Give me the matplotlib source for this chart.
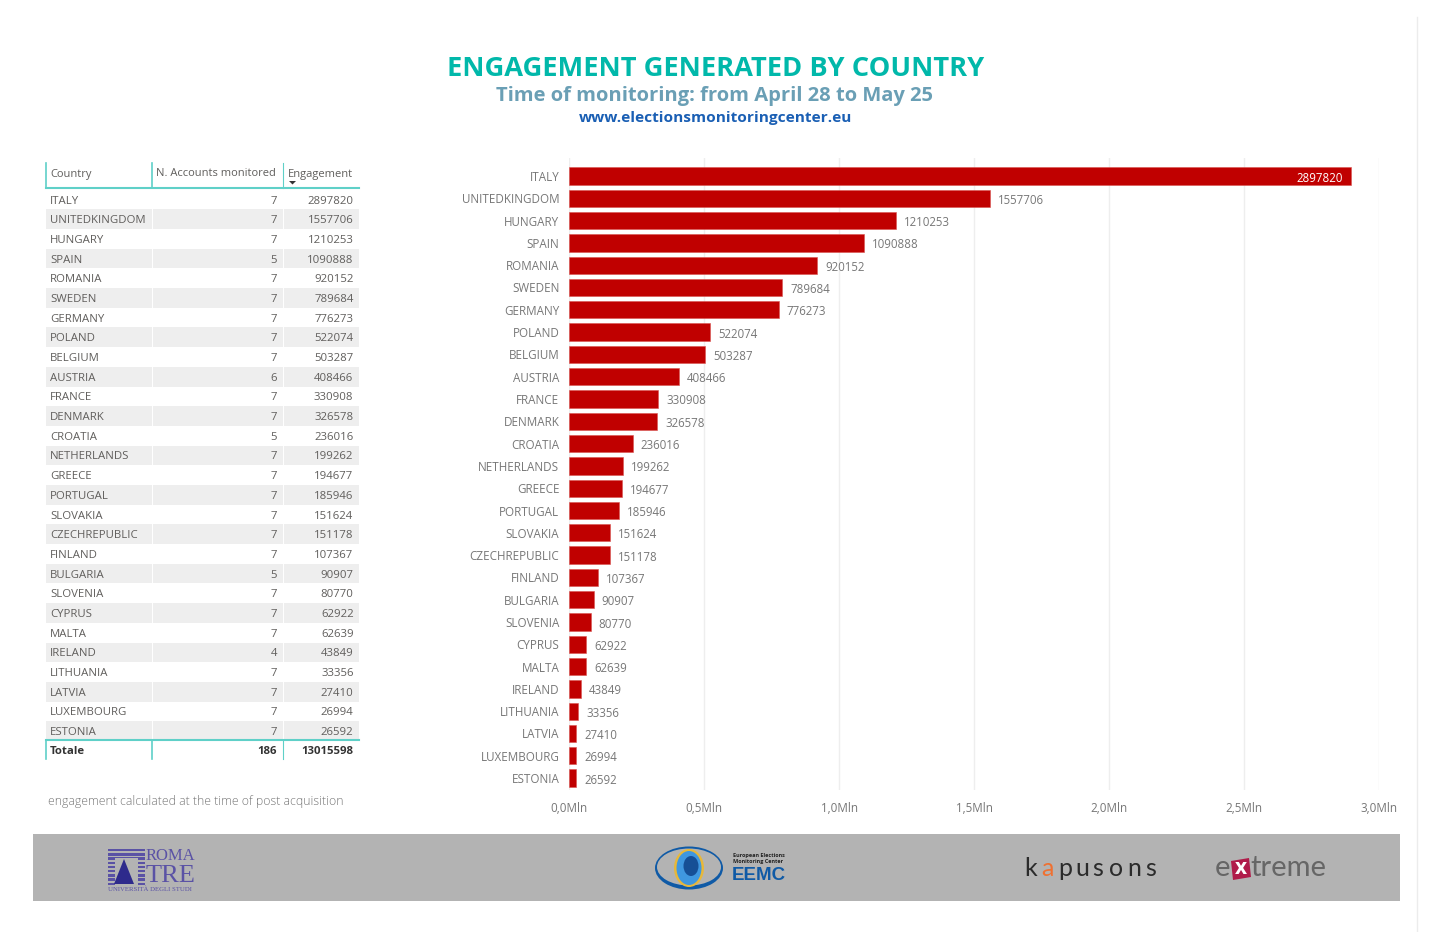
import matplotlib
matplotlib.use('Agg')
import matplotlib.pyplot as plt
from matplotlib.patches import Rectangle, Ellipse, Polygon

plt.rcParams['font.family'] = ['Open Sans', 'DejaVu Sans']

countries = ['ITALY', 'UNITEDKINGDOM', 'HUNGARY', 'SPAIN', 'ROMANIA', 'SWEDEN', 'GERMANY',
             'POLAND', 'BELGIUM', 'AUSTRIA', 'FRANCE', 'DENMARK', 'CROATIA', 'NETHERLANDS',
             'GREECE', 'PORTUGAL', 'SLOVAKIA', 'CZECHREPUBLIC', 'FINLAND', 'BULGARIA',
             'SLOVENIA', 'CYPRUS', 'MALTA', 'IRELAND', 'LITHUANIA', 'LATVIA', 'LUXEMBOURG',
             'ESTONIA']
accounts = [7, 7, 7, 5, 7, 7, 7, 7, 7, 6, 7, 7, 5, 7, 7, 7, 7, 7, 7, 5, 7, 7, 7, 4, 7, 7, 7, 7]
engagement = [2897820, 1557706, 1210253, 1090888, 920152, 789684, 776273, 522074, 503287,
              408466, 330908, 326578, 236016, 199262, 194677, 185946, 151624, 151178,
              107367, 90907, 80770, 62922, 62639, 43849, 33356, 27410, 26994, 26592]
total_accounts = 186
total_engagement = 13015598
xticks = [0, 500000, 1000000, 1500000, 2000000, 2500000, 3000000]
xtick_labels = ['0,0Mln', '0,5Mln', '1,0Mln', '1,5Mln', '2,0Mln', '2,5Mln', '3,0Mln']

W = 1434
H = 932
TEAL = '#5fd0c8'
GREY = '#605e5c'

fig = plt.figure(figsize=(W / 100, H / 100), dpi=100)

# overlay in pixel coordinates, for the title, table and footer
bg = fig.add_axes([0, 0, 1, 1])
bg.set_xlim(0, W)
bg.set_ylim(H, 0)
bg.axis('off')

# right page edge
bg.plot([1417, 1417], [17, H], color='#ececec', lw=1)

bg.text(716, 69, 'ENGAGEMENT GENERATED BY COUNTRY', color='#01b8aa', fontsize=19.6,
        fontweight='bold', ha='center', va='center')
bg.text(715, 96, 'Time of monitoring: from April 28 to May 25', color='#6a9fb5', fontsize=14.5,
        fontweight='bold', ha='center', va='center')
bg.text(716, 118, 'www.electionsmonitoringcenter.eu', color='#1a5fb4', fontsize=11.1,
        fontweight='bold', ha='center', va='center')

# table
row0 = 200
step = 19.69
col_l = 45.5
col_r = 359
col_a = 152
col_b = 283
for i in range(len(countries)):
    y = row0 + i * step
    if i % 2 == 1:
        bg.add_patch(Rectangle((col_l, y - step / 2 - 0.5), col_r - col_l, step, color='#eeeeee', lw=0))
    bg.text(50, y + 1, countries[i], fontsize=8.2, color=GREY, ha='left', va='center')
    bg.text(277, y + 1, str(accounts[i]), fontsize=8.2, color=GREY, ha='right', va='center')
    bg.text(353.5, y + 1, str(engagement[i]), fontsize=8.2, color=GREY, ha='right', va='center')
for x in [col_a, col_b]:
    bg.plot([x, x], [190, 740], color='white', lw=0.7)

bg.text(50, 174, 'Country', fontsize=8, color=GREY, ha='left', va='center')
bg.text(156, 174, 'N. Accounts monitored', fontsize=8, color=GREY, ha='left', va='center')
bg.text(288, 174, 'Engagement', fontsize=8, color=GREY, ha='left', va='center')
bg.add_patch(Polygon([(289, 181), (296, 181), (292.5, 184.5)], color='#333333', lw=0))

bg.plot([col_l, col_r], [188, 188], color=TEAL, lw=1.5)
bg.plot([col_l, col_r], [740, 740], color=TEAL, lw=1.5)
bg.plot([col_l, col_l], [163, 188], color=TEAL, lw=1.2)
bg.plot([col_a, col_a], [163, 188], color=TEAL, lw=1.2)
bg.plot([col_b, col_b], [163, 188], color=TEAL, lw=0.8)
bg.plot([col_l, col_l], [740, 759], color=TEAL, lw=1.2)
bg.plot([col_a, col_a], [740, 759], color=TEAL, lw=1.2)
bg.plot([col_b, col_b], [740, 759], color=TEAL, lw=0.8)

bg.text(50, 752, 'Totale', fontsize=8.2, color='#333333', fontweight='bold', ha='left', va='center')
bg.text(277, 752, str(total_accounts), fontsize=8.2, color='#333333', fontweight='bold',
        ha='right', va='center')
bg.text(353.5, 752, str(total_engagement), fontsize=8.2, color='#333333', fontweight='bold',
        ha='right', va='center')

bg.text(48, 801, 'engagement calculated at the time of post acquisition', fontsize=8.8,
        color='#777777', fontweight='light', ha='left', va='center')

# footer band with the logos
bg.add_patch(Rectangle((33, 834), 1367, 67, color='#b3b3b3', lw=0))

# Roma Tre
for k in range(9):
    bg.add_patch(Rectangle((108, 849 + k * 4.2), 37, 2.4, color='#5a52a5', lw=0))
bg.add_patch(Rectangle((115, 858), 23, 30, color='#b3b3b3', lw=0))
bg.add_patch(Polygon([(114, 884), (134, 884), (124, 859)], color='#2e2a8c', lw=0))
bg.text(146, 856, 'ROMA', family='Liberation Serif', fontsize=12, color='#5a52a5', ha='left', va='center')
bg.text(146, 876, 'TRE', family='Liberation Serif', fontsize=19, color='#5a52a5', ha='left', va='center')
bg.text(108, 889.5, 'UNIVERSITÀ DEGLI STUDI', family='Liberation Serif', fontsize=4.9,
        color='#5a52a5', ha='left', va='center')

# EEMC
bg.add_patch(Ellipse((689, 868), 68, 43, color='#0f5aa6', lw=0))
bg.add_patch(Ellipse((689, 867), 64, 37, color='#b3b3b3', lw=0))
bg.add_patch(Ellipse((689, 868), 30, 38, color='#e8b83a', lw=0))
bg.add_patch(Ellipse((689, 868), 25, 34, color='#3f97e0', lw=0))
bg.add_patch(Ellipse((691, 866), 15, 20, color='#164f96', lw=0))
bg.text(733, 855, 'European Elections', fontsize=4, fontweight='bold', color='#222222', ha='left', va='center')
bg.text(733, 862, 'Monitoring Center', fontsize=4, fontweight='bold', color='#222222', ha='left', va='center')
bg.text(732, 876, 'EEMC', fontsize=13.5, fontweight='bold', color='#0f5aa6', ha='left', va='center',
        family='Liberation Sans')

# kapusons / extreme
kap_letters = ['k', 'a', 'p', 'u', 's', 'o', 'n', 's']
kap_x = [1031, 1047, 1065, 1082, 1098, 1116, 1134, 1151]
for ch, x in zip(kap_letters, kap_x):
    col = '#f07030' if ch == 'a' else '#2b2b2b'
    bg.text(x, 869, ch, fontsize=18, color=col, ha='center', va='center', family='Lato')
bg.text(1215, 868, 'e', fontsize=21, color='#666666', ha='left', va='center', family='Lato')
bg.add_patch(Polygon([(1231, 861), (1249, 858), (1251, 877), (1233, 880)], color='#b01c4a', lw=0))
bg.text(1241, 869, 'x', fontsize=15, color='white', fontweight='bold', ha='center', va='center')
bg.text(1250, 868, 'treme', fontsize=21, color='#666666', ha='left', va='center', family='Lato')

# bar chart, axes placed so that 0 and 3M sit on the reference gridlines
left = 569
right = 1379
top = 158
bottom = 790
ax = fig.add_axes([left / W, 1 - bottom / H, (right - left) / W, (bottom - top) / H])
ax.patch.set_alpha(0)

# row centres: ITALY at 176, ESTONIA at 778, 22.3 px apart
row_h = 22.3
ax.set_ylim((bottom - 176) / row_h, (top - 176) / row_h)
ax.set_xlim(0, 3000000)
positions = list(range(len(countries)))
ax.barh(positions, engagement, height=0.78, color='#c00000', edgecolor='#d9534f', linewidth=0.4, zorder=3)

for i in positions:
    if i == 0:
        ax.annotate(f'{engagement[i]}', (engagement[i], i), xytext=(-9, -2), textcoords='offset pixels',
                    ha='right', va='center', fontsize=8.3, color='white', zorder=4)
    else:
        ax.annotate(f'{engagement[i]}', (engagement[i], i), xytext=(8, -2), textcoords='offset pixels',
                    ha='left', va='center', fontsize=8.3, color='#777777', zorder=4)

ax.set_yticks(positions)
ax.set_yticklabels(countries, fontsize=8.4, color='#777777')
ax.set_xticks(xticks)
ax.set_xticklabels(xtick_labels, fontsize=8.4, color='#777777')
ax.tick_params(axis='both', length=0)
ax.tick_params(axis='y', pad=7)
ax.tick_params(axis='x', pad=9)
ax.grid(axis='x', color='#eeeeee', lw=1, zorder=0)
ax.set_axisbelow(True)
for s in ax.spines.values():
    s.set_visible(False)

fig.savefig('out.png', dpi=100)
